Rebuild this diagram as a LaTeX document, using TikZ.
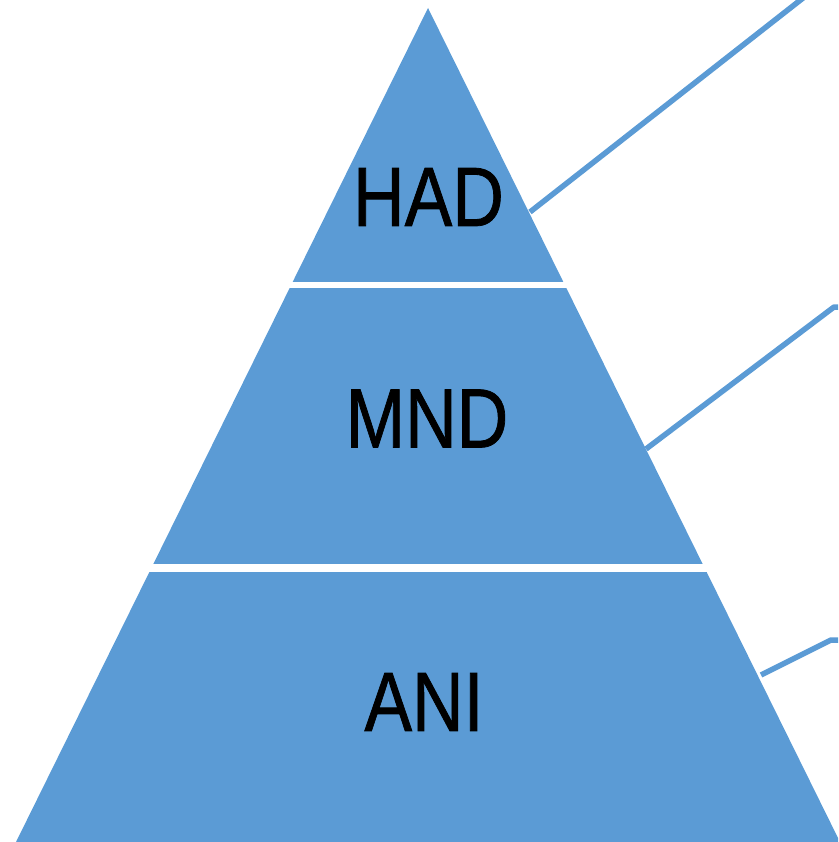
\documentclass[tikz,border=0pt]{standalone}
\usepackage{fontspec}
\setmainfont{Liberation Sans}
\newfontfamily\tierfont{Liberation Sans}[FakeBold=1]
\definecolor{tierblue}{HTML}{5B9BD5}
\tikzset{
  tiertext/.style={inner sep=0pt, text=black,
    font=\tierfont\fontsize{84}{84}\selectfont},
  leader/.style={draw=tierblue, line width=5.5pt, line join=round},
  gapline/.style={draw=white}
}
\newcommand{\narrow}[1]{\scalebox{0.85}[1]{#1}}
\begin{document}
\begin{tikzpicture}[x=1pt,y=-1pt]
  \useasboundingbox (0,0) rectangle (838,842);
  \clip (0,0) rectangle (838,842);

  % pyramid body
  \fill[tierblue] (428,8) -- (16,842) -- (840,842) -- cycle;
  % white separators between the tiers
  \draw[gapline, line width=6pt] (0,285) -- (838,285);
  \draw[gapline, line width=7.5pt] (0,568) -- (838,568);

  % tier labels
  \node[tiertext] (had) at (428.5,197) {\narrow{HAD}};
  \node[tiertext] (mnd) at (427,418.5) {\narrow{MND}};
  \node[tiertext] (ani) at (424,702) {\narrow{ANI}};

  % leader lines from the right flank
  \coordinate (s1) at (530,212);
  \coordinate (e1) at (812,-9);
  \coordinate (s2) at (646,449);
  \coordinate (k2) at (834,307);
  \coordinate (e2) at (860,307);
  \coordinate (s3) at (761,675);
  \coordinate (k3) at (831,640);
  \coordinate (e3) at (860,640);

  \draw[leader] (s1) -- (e1);
  \draw[leader] (s2) -- (k2) -- (e2);
  \draw[leader] (s3) -- (k3) -- (e3);
\end{tikzpicture}
\end{document}
